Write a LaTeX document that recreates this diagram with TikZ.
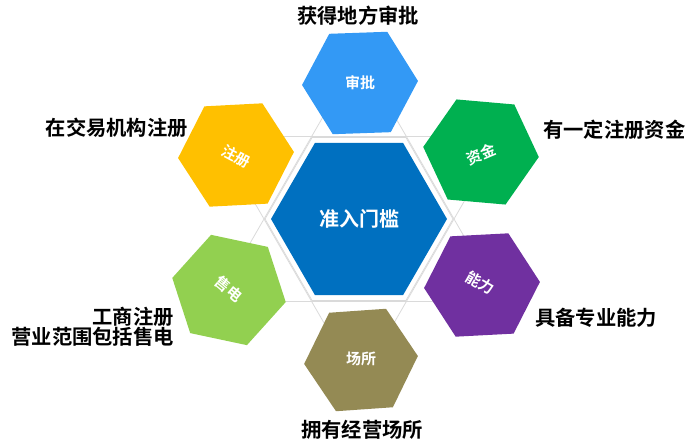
\documentclass[tikz,border=0pt]{standalone}
\usepackage{fontspec}
\usetikzlibrary{calc}
\setmainfont{Liberation Sans}
\newfontfamily\cjk{Noto Sans CJK SC}[BoldFont={Noto Sans CJK SC Bold}]
\definecolor{cMain}{HTML}{0070C0}
\definecolor{cShen}{HTML}{3399F5}
\definecolor{cZhu}{HTML}{FFC000}
\definecolor{cZi}{HTML}{00B050}
\definecolor{cShou}{HTML}{92D050}
\definecolor{cNeng}{HTML}{7030A0}
\definecolor{cChang}{HTML}{948A54}
\definecolor{cGrid}{HTML}{DADADA}
\tikzset{
  outlabel/.style={inner sep=0pt, font=\cjk\bfseries\fontsize{20.3}{20}\selectfont, text=black},
  hexlabel/.style={inner sep=0pt, font=\cjk\bfseries\fontsize{15}{16}\selectfont, text=white},
  mainlabel/.style={inner sep=0pt, font=\cjk\bfseries\fontsize{20}{21}\selectfont, text=white},
  gridline/.style={draw=cGrid, line width=0.8pt}
}
\begin{document}
\begin{tikzpicture}[x=1pt,y=1pt]
\useasboundingbox (0,0) rectangle (700,443);
% grid lines behind
\begin{scope}[shift={(359,224)}]
  \foreach \a in {0,60,...,300}{
    \draw[gridline] ($(\a:95)!-0.32!(\a+60:95)$) -- ($(\a+60:95)!-0.32!(\a:95)$);
  }
  \draw[gridline] (0:94) -- (60:94) -- (120:94) -- (180:94) -- (240:94) -- (300:94) -- cycle;
\end{scope}
% central hexagon
\fill[cMain, shift={(359,224)}] (0:88) -- (60:88) -- (120:88) -- (180:88) -- (240:88) -- (300:88) -- cycle;
\node[mainlabel] (main) at (359,224) {准入门槛};
% satellites
\fill[cShen, shift={(360,360)}, rotate=2] (0:58) -- (60:58) -- (120:58) -- (180:58) -- (240:58) -- (300:58) -- cycle;
\node[hexlabel] (shen) at (360,360) {审批};
\fill[cZhu, shift={(236,288)}, rotate=3] (0:58) -- (60:58) -- (120:58) -- (180:58) -- (240:58) -- (300:58) -- cycle;
\node[hexlabel, rotate=-28] (zhu) at (236,286) {注册};
\fill[cZi, shift={(481,291)}, rotate=-5] (0:58) -- (60:58) -- (120:58) -- (180:58) -- (240:58) -- (300:58) -- cycle;
\node[hexlabel, rotate=23] (zi) at (481,289) {资金};
\fill[cShou, shift={(229,153)}, rotate=-12] (0:58) -- (60:58) -- (120:58) -- (180:58) -- (240:58) -- (300:58) -- cycle;
\node[hexlabel, rotate=-40] (shou) at (229,154) {售电};
\fill[cNeng, shift={(482,158)}, rotate=3] (0:58) -- (60:58) -- (120:58) -- (180:58) -- (240:58) -- (300:58) -- cycle;
\node[hexlabel, rotate=-30] (neng) at (480,160) {能力};
\fill[cChang, shift={(361,83)}, rotate=4] (0:57) -- (60:57) -- (120:57) -- (180:57) -- (240:57) -- (300:57) -- cycle;
\node[hexlabel] (chang) at (361,84) {场所};
% outer labels
\node[outlabel] (l1) at (358,427) {获得地方审批};
\node[outlabel, anchor=east] (l2) at (188,315) {在交易机构注册};
\node[outlabel, anchor=west] (l3) at (543,313) {有一定注册资金};
\node[outlabel, anchor=east, align=right] (l4) at (174,116) {工商注册\\营业范围包括售电};
\node[outlabel, anchor=west] (l5) at (535,125) {具备专业能力};
\node[outlabel] (l6) at (362,13) {拥有经营场所};
\end{tikzpicture}
\end{document}
